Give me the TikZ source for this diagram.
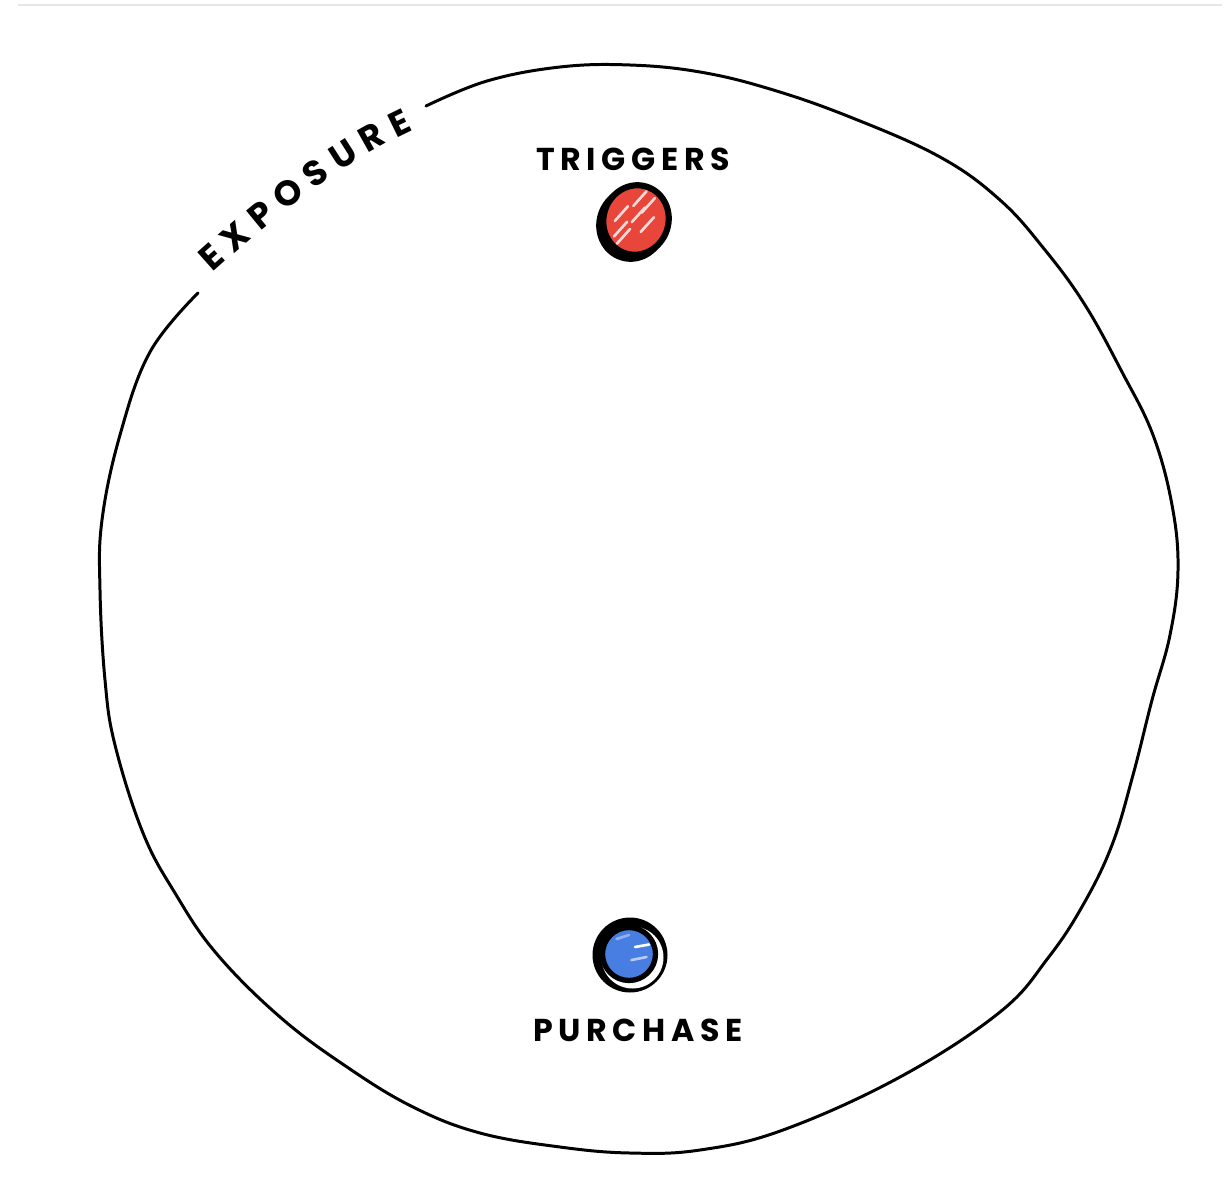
\documentclass[tikz,border=0pt]{standalone}
\usepackage{fontspec}
\usetikzlibrary{positioning,calc,shapes.geometric,decorations.text}
\newfontfamily\markerfont{Poppins}[LetterSpace=18]
\newfontfamily\arcfont{Poppins}[WordSpace=1.25]
\definecolor{dotred}{RGB}{232,70,58}
\definecolor{dotblue}{RGB}{72,126,226}
\definecolor{rulegrey}{RGB}{230,230,230}

\tikzset{
  handlabel/.style={font=\markerfont\bfseries\fontsize{18}{20}\selectfont, inner sep=0pt},
  outline/.style={line width=1.7pt, line cap=round, line join=round},
  eggdot/.style={ellipse, draw=black, line width=3.5pt, inner sep=0pt,
    minimum width=1.3cm, minimum height=1.4cm, rotate=-18},
  scribble/.style={line width=1.5pt, line cap=round},
}

\begin{document}
\begin{tikzpicture}[x=0.02cm, y=-0.02cm]
  \useasboundingbox (0,0) rectangle (1226,1203);
  \draw[rulegrey, line width=1pt] (18,5) -- (1222,5);

  % exposure boundary, open where the label sits
  \draw[outline] plot[smooth, tension=0.65] coordinates {
    (426,106) (487,81) (560,67) (630,65) (700,72) (770,89) (850,117)
    (940,157) (1000,200) (1045,250) (1085,305) (1122,372) (1153,435)
    (1172,505) (1178,570) (1170,635) (1152,700) (1133,775) (1112,845)
    (1083,905) (1048,958) (1000,1012) (900,1077) (783,1130) (700,1150)
    (630,1153) (560,1147) (480,1133) (413,1107) (347,1067) (280,1017)
    (216,953) (175,893) (143,833) (115,745) (105,680) (100,590)
    (102,520) (120,435) (150,352) (198,293)};

  % label along the gap
  \path[decorate, decoration={text along path, text align=center,
      text={|\arcfont\bfseries\fontsize{20}{22}\selectfont|E X P O S U R E}}]
    (196,288) .. controls (258,232) and (338,160) .. (434,121);

  % triggers
  \coordinate (trigspot) at (636,220);
  \node[eggdot, fill=black] at ($(trigspot)+(-4,4)$) {};
  \node[eggdot, fill=dotred, path picture={
      \foreach \a/\b in {-0.38/-0.20, -0.30/-0.50, -0.05/-0.12, 0.08/0.12, -0.20/-0.62, 0.18/-0.25, -0.12/0.20}
        \draw[scribble, white!80!dotred]
          ([shift={(\a cm,\b cm)}]path picture bounding box.center) -- ++(0.16cm,0.36cm);
    }] (trigdot) at (trigspot) {};
  \node[handlabel] (trig) at (633,159) {TRIGGERS};

  % purchase
  \coordinate (purchspot) at (630,955);
  \fill[black] (purchspot) circle[radius=0.75cm];
  \fill[white] ($(purchspot)+(2.5,2.5)$) circle[radius=0.62cm];
  \node[circle, draw=black, line width=3pt, fill=dotblue, minimum size=1.06cm,
    inner sep=0pt, path picture={
      \draw[scribble, white] ([shift={(0.12cm,0.14cm)}]path picture bounding box.center) -- ++(0.28cm,0.05cm);
      \draw[scribble, white!60!dotblue] ([shift={(0.05cm,-0.12cm)}]path picture bounding box.center) -- ++(0.3cm,0.06cm);
      \draw[scribble, white!40!dotblue] ([shift={(-0.25cm,0.3cm)}]path picture bounding box.center) -- ++(0.25cm,0.08cm);
    }] (purchdot) at ($(purchspot)+(-1,-1)$) {};
  \node[handlabel] (purch) at (638,1030) {PURCHASE};
\end{tikzpicture}
\end{document}
